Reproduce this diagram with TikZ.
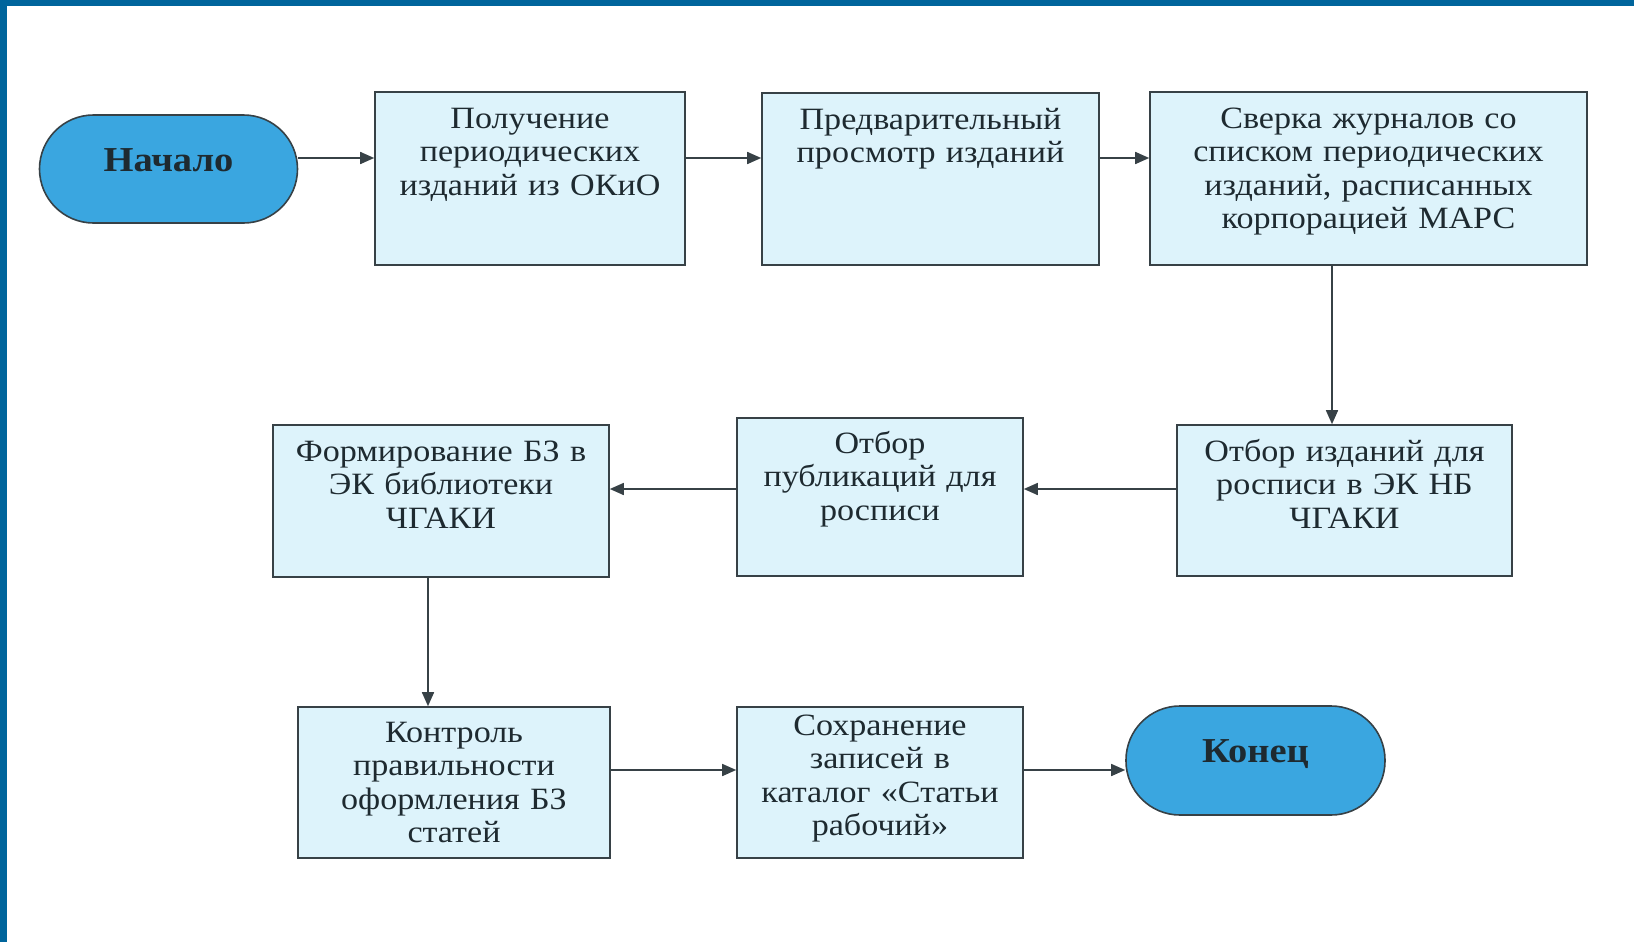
\documentclass[tikz,border=0pt]{standalone}
\usepackage{fontspec}
\setmainfont{Liberation Serif}[FakeStretch=1.1]
\usetikzlibrary{arrows.meta}

\definecolor{frameblue}{RGB}{0,101,156}
\definecolor{boxfill}{RGB}{221,243,251}
\definecolor{pillfill}{RGB}{58,166,224}
\definecolor{linegray}{RGB}{55,65,70}
\definecolor{inkdark}{RGB}{30,42,48}

\begin{document}
\begin{tikzpicture}[x=0.5pt,y=-0.5pt,
	stepbox/.style={draw=linegray, line width=0.8pt, fill=boxfill, text=inkdark, align=center,
		inner xsep=0pt, inner ysep=0pt, text height=18pt, font=\fontsize{15.5}{16.75}\selectfont},
	pill/.style={draw=linegray, line width=0.8pt, fill=pillfill, text=inkdark, rounded corners=27pt,
		minimum width=129pt, minimum height=54pt, inner sep=0pt, text depth=9pt,
		font=\fontsize{17.5}{20}\selectfont\bfseries},
	arr/.style={-{Triangle[length=7pt,width=6pt]}, line width=0.8pt, draw=linegray}]

	\useasboundingbox (0,0) rectangle (1634,942);
	% frame
	\fill [frameblue] (0,0) rectangle (1634,6);
	\fill [frameblue] (0,0) rectangle (7,942);

	% row 1
	\node [pill] (start) at (168.5,169) {Начало};
	\node [stepbox, text width=155pt, text depth=68.5pt] (get) at (530,178.5)
		{Получение\\периодических\\изданий из ОКиО};
	\node [stepbox, text width=168.5pt, text depth=68pt] (view) at (930.5,179)
		{Предварительный\\просмотр изданий};
	\node [stepbox, text width=218.5pt, text depth=68.5pt] (check) at (1368.5,178.5)
		{Сверка журналов со\\списком периодических\\изданий, расписанных\\корпорацией МАРС};

	% row 2
	\node [stepbox, text width=167.5pt, text depth=57.5pt] (pick) at (1344.5,500.5)
		{Отбор изданий для\\росписи в ЭК НБ\\ЧГАКИ};
	\node [stepbox, text width=143pt, text height=17.5pt, text depth=61.5pt] (pubs) at (880,497)
		{Отбор\\публикаций для\\росписи};
	\node [stepbox, text width=168pt, text depth=58pt] (form) at (441,501)
		{Формирование БЗ в\\ЭК библиотеки\\ЧГАКИ};

	% row 3
	\node [stepbox, text width=156pt, text height=17.5pt, text depth=58pt] (ctrl) at (454,782.5)
		{Контроль\\правильности\\оформления БЗ\\статей};
	\node [stepbox, text width=143pt, text height=14pt, text depth=61.5pt] (save) at (880,782.5)
		{Сохранение\\записей в\\каталог «Статьи\\рабочий»};
	\node [pill, minimum width=129.5pt, minimum height=54.5pt] (stop) at (1255.5,760.5) {Конец};

	% arrows
	\coordinate (row1) at (0,158);
	\coordinate (row2) at (0,489);
	\coordinate (row3) at (0,770);
	\coordinate (col1) at (1332,0);
	\coordinate (col2) at (428,0);

	\draw [arr] (start.east |- row1) -- (get.west |- row1);
	\draw [arr] (get.east |- row1) -- (view.west |- row1);
	\draw [arr] (view.east |- row1) -- (check.west |- row1);
	\draw [arr] (check.south -| col1) -- (pick.north -| col1);
	\draw [arr] (pick.west |- row2) -- (pubs.east |- row2);
	\draw [arr] (pubs.west |- row2) -- (form.east |- row2);
	\draw [arr] (form.south -| col2) -- (ctrl.north -| col2);
	\draw [arr] (ctrl.east |- row3) -- (save.west |- row3);
	\draw [arr] (save.east |- row3) -- (stop.west |- row3);
\end{tikzpicture}
\end{document}
